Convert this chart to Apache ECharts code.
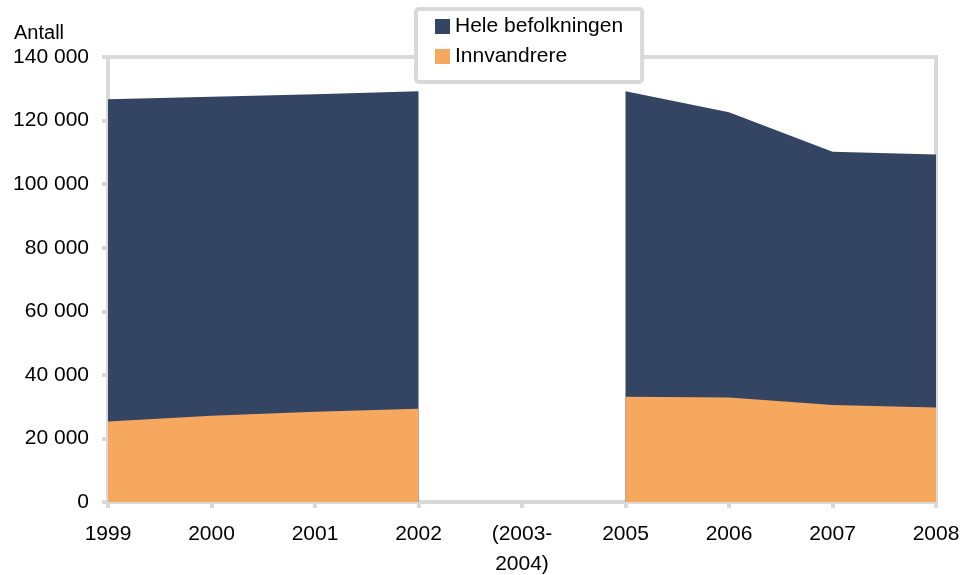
<!DOCTYPE html>
<html>
<head>
<meta charset="utf-8">
<script src="https://cdn.jsdelivr.net/npm/echarts@6/dist/echarts.min.js"></script>
<style>
  html, body { margin: 0; padding: 0; background: #fff; }
  #chart { width: 962px; height: 575px; }
</style>
</head>
<body>
<div id="chart"></div>
<script>
const years = ["1999", "2000", "2001", "2002", "(2003-\n2004)", "2005", "2006", "2007", "2008"];
const heleBefolkningen = [126700, 127500, 128300, 129200, null, 129200, 122600, 110200, 109300];
const innvandrere = [25300, 27100, 28400, 29300, null, 33100, 32900, 30500, 29700];
const yTicks = [0, 20000, 40000, 60000, 80000, 100000, 120000, 140000];

const gridGray = "#d9d9d9";
const font = "Liberation Sans, Arial, sans-serif";

const chart = echarts.init(document.getElementById("chart"));

chart.setOption({
  animation: false,
  backgroundColor: "#fff",
  textStyle: { fontFamily: font },
  title: {
    text: "Antall",
    left: 9,
    top: 18,
    textStyle: { fontFamily: font, fontSize: 20, fontWeight: "normal", color: "#000" },
  },
  legend: {
    orient: "vertical",
    left: 416,
    top: 9,
    padding: [7, 19, 15, 19],
    backgroundColor: "#fff",
    borderColor: gridGray,
    borderWidth: 4,
    borderRadius: 3,
    itemWidth: 15,
    itemHeight: 15,
    itemGap: 9,
    icon: "rect",
    textStyle: { fontFamily: font, fontSize: 21, color: "#000" },
    data: ["Hele befolkningen", "Innvandrere"],
  },
  grid: {
    left: 108,
    right: 26,
    top: 57,
    bottom: 73,
    show: true,
    borderColor: gridGray,
    borderWidth: 4,
    containLabel: false,
    outerBoundsMode: "none",
  },
  xAxis: {
    type: "category",
    data: years,
    boundaryGap: false,
    axisLine: { lineStyle: { color: gridGray, width: 4 } },
    axisTick: { show: true, length: 6, lineStyle: { color: gridGray, width: 4 } },
    axisLabel: { color: "#000", fontSize: 21, fontFamily: font, margin: 17, lineHeight: 30 },
  },
  yAxis: {
    type: "value",
    min: yTicks[0],
    max: yTicks[yTicks.length - 1],
    interval: 20000,
    splitLine: { show: false },
    axisLine: { show: true, lineStyle: { color: gridGray, width: 4 } },
    axisTick: { show: true, length: 6, lineStyle: { color: gridGray, width: 4 } },
    axisLabel: {
      color: "#000",
      fontSize: 21,
      fontFamily: font,
      margin: 19,
      formatter: (v) => String(v).replace(/\B(?=(\d{3})+(?!\d))/g, " "),
    },
  },
  series: [
    {
      name: "Hele befolkningen",
      type: "line",
      data: heleBefolkningen,
      showSymbol: false,
      connectNulls: false,
      lineStyle: { width: 0 },
      itemStyle: { color: "#334562" },
      areaStyle: { color: "#334562", opacity: 1 },
      z: 2,
    },
    {
      name: "Innvandrere",
      type: "line",
      data: innvandrere,
      showSymbol: false,
      connectNulls: false,
      lineStyle: { width: 0 },
      itemStyle: { color: "#f6a95e" },
      areaStyle: { color: "#f6a95e", opacity: 1 },
      z: 3,
    },
  ],
});
</script>
</body>
</html>
